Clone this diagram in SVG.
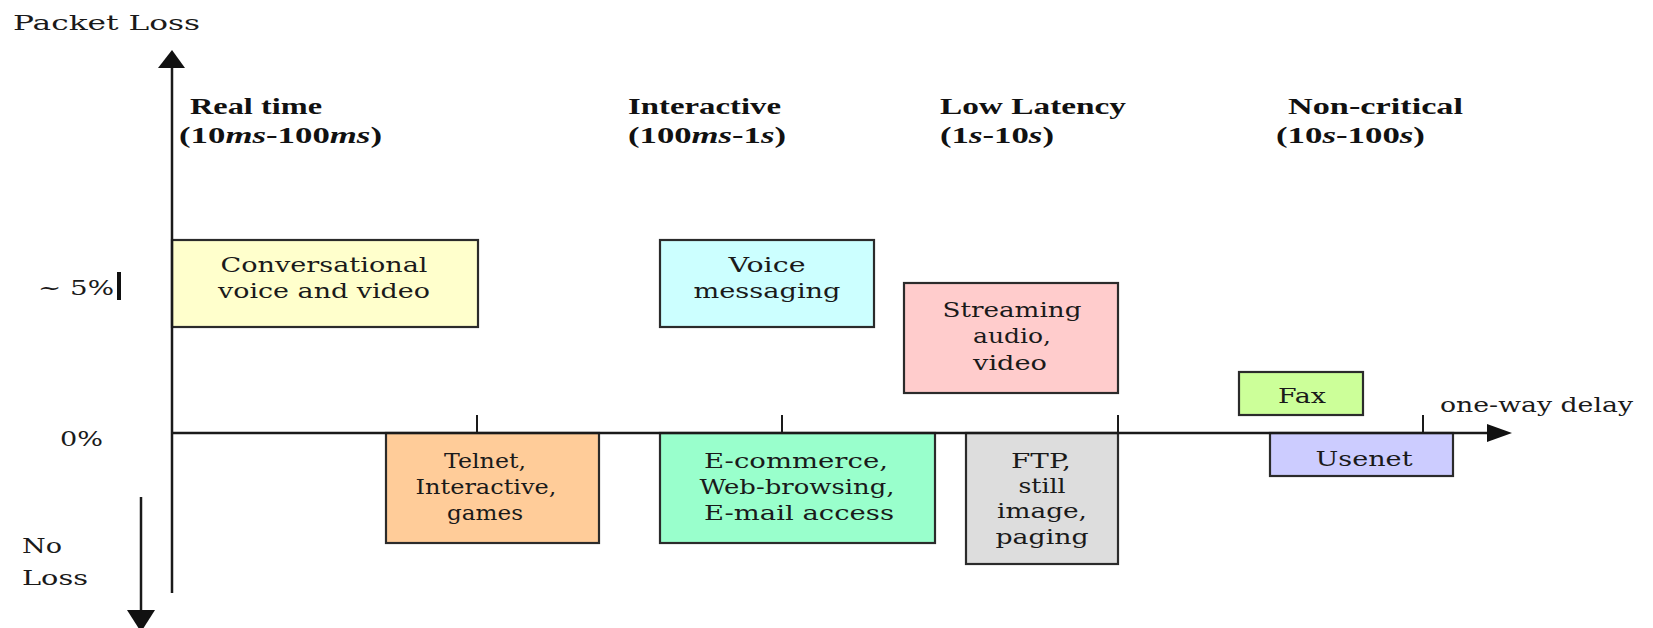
<svg xmlns="http://www.w3.org/2000/svg" width="1653" height="628" viewBox="0 0 1653 628">
<style>
.box{stroke:#2b2b2b;stroke-width:2.2}
.t{font-family:"DejaVu Serif","Liberation Serif",serif;font-size:21px;fill:#1a1a1a;text-anchor:middle}
.l{font-family:"DejaVu Serif","Liberation Serif",serif;font-size:21px;fill:#1a1a1a}
.h{font-family:"Liberation Serif","DejaVu Serif",serif;font-size:23px;font-weight:bold;fill:#111}
.ax{stroke:#1a1a1a;stroke-width:2.5;fill:none}
.tick{stroke:#1a1a1a;stroke-width:2}
.i{font-style:italic}
</style>
<rect width="1653" height="628" fill="#ffffff"/>

<g id="labels">
<text class="l" x="13" y="30" textLength="187" lengthAdjust="spacingAndGlyphs">Packet Loss</text>
<text class="l" x="38" y="295" textLength="76" lengthAdjust="spacingAndGlyphs">~ 5%</text>
<rect x="117" y="272" width="4" height="28" fill="#111"/>
<text class="l" x="60" y="446" textLength="43" lengthAdjust="spacingAndGlyphs">0%</text>
<text class="l" x="22" y="553" textLength="40" lengthAdjust="spacingAndGlyphs">No</text>
<text class="l" x="22" y="585" textLength="66" lengthAdjust="spacingAndGlyphs">Loss</text>
<text class="l" x="1440" y="412" textLength="193" lengthAdjust="spacingAndGlyphs">one-way delay</text>
</g>

<g id="headers">
<text class="h" x="190" y="114" textLength="132" lengthAdjust="spacingAndGlyphs">Real time</text>
<text class="h" x="179" y="143" textLength="203" lengthAdjust="spacingAndGlyphs">(10<tspan class="i">ms</tspan>-100<tspan class="i">ms</tspan>)</text>
<text class="h" x="628" y="114" textLength="153" lengthAdjust="spacingAndGlyphs">Interactive</text>
<text class="h" x="628" y="143" textLength="158" lengthAdjust="spacingAndGlyphs">(100<tspan class="i">ms</tspan>-1<tspan class="i">s</tspan>)</text>
<text class="h" x="940" y="114" textLength="186" lengthAdjust="spacingAndGlyphs">Low Latency</text>
<text class="h" x="940" y="143" textLength="114" lengthAdjust="spacingAndGlyphs">(1<tspan class="i">s</tspan>-10<tspan class="i">s</tspan>)</text>
<text class="h" x="1288" y="114" textLength="175" lengthAdjust="spacingAndGlyphs">Non-critical</text>
<text class="h" x="1276" y="143" textLength="149" lengthAdjust="spacingAndGlyphs">(10<tspan class="i">s</tspan>-100<tspan class="i">s</tspan>)</text>
</g>

<g id="conversational">
<rect class="box" x="172" y="240" width="306" height="87" fill="#FFFFCC"/>
<text class="t" x="324" y="272" textLength="207" lengthAdjust="spacingAndGlyphs">Conversational</text>
<text class="t" x="324" y="298" textLength="212" lengthAdjust="spacingAndGlyphs">voice and video</text>
</g>

<g id="voice-messaging">
<rect class="box" x="660" y="240" width="214" height="87" fill="#CCFFFF"/>
<text class="t" x="767" y="272" textLength="77" lengthAdjust="spacingAndGlyphs">Voice</text>
<text class="t" x="767" y="298" textLength="147" lengthAdjust="spacingAndGlyphs">messaging</text>
</g>

<g id="streaming">
<rect class="box" x="904" y="283" width="214" height="110" fill="#FFCCCC"/>
<text class="t" x="1012" y="317" textLength="139" lengthAdjust="spacingAndGlyphs">Streaming</text>
<text class="t" x="1012" y="343" textLength="78" lengthAdjust="spacingAndGlyphs">audio,</text>
<text class="t" x="1010" y="370" textLength="74" lengthAdjust="spacingAndGlyphs">video</text>
</g>

<g id="fax">
<rect class="box" x="1239" y="372" width="124" height="43" fill="#CCFF99"/>
<text class="t" x="1302" y="403" textLength="48" lengthAdjust="spacingAndGlyphs">Fax</text>
</g>

<g id="telnet">
<rect class="box" x="386" y="433" width="213" height="110" fill="#FFCC99"/>
<text class="t" x="485" y="468" textLength="82" lengthAdjust="spacingAndGlyphs">Telnet,</text>
<text class="t" x="486" y="494" textLength="141" lengthAdjust="spacingAndGlyphs">Interactive,</text>
<text class="t" x="485" y="520" textLength="76" lengthAdjust="spacingAndGlyphs">games</text>
</g>

<g id="ecommerce">
<rect class="box" x="660" y="433" width="275" height="110" fill="#99FFCC"/>
<text class="t" x="796" y="468" textLength="184" lengthAdjust="spacingAndGlyphs">E-commerce,</text>
<text class="t" x="797" y="494" textLength="195" lengthAdjust="spacingAndGlyphs">Web-browsing,</text>
<text class="t" x="799" y="520" textLength="190" lengthAdjust="spacingAndGlyphs">E-mail access</text>
</g>

<g id="ftp">
<rect class="box" x="966" y="433" width="152" height="131" fill="#DDDDDD"/>
<text class="t" x="1041" y="468" textLength="60" lengthAdjust="spacingAndGlyphs">FTP,</text>
<text class="t" x="1042" y="493" textLength="47" lengthAdjust="spacingAndGlyphs">still</text>
<text class="t" x="1042" y="518" textLength="90" lengthAdjust="spacingAndGlyphs">image,</text>
<text class="t" x="1042" y="544" textLength="93" lengthAdjust="spacingAndGlyphs">paging</text>
</g>

<g id="usenet">
<rect class="box" x="1270" y="433" width="183" height="43" fill="#CCCCFF"/>
<text class="t" x="1364" y="466" textLength="97" lengthAdjust="spacingAndGlyphs">Usenet</text>
</g>

<g id="connectors">
<line class="ax" x1="172" y1="64" x2="172" y2="593"/>
<polygon points="172,50 158,68 185,68" fill="#111"/>
<line class="ax" x1="172" y1="433" x2="1490" y2="433"/>
<polygon points="1512,433 1487,424 1487,442" fill="#111"/>
<line class="ax" x1="141" y1="497" x2="141" y2="612"/>
<polygon points="141,632 127,610 155,610" fill="#111"/>
<line class="tick" x1="477" y1="415" x2="477" y2="433"/>
<line class="tick" x1="782" y1="415" x2="782" y2="433"/>
<line class="tick" x1="1118" y1="415" x2="1118" y2="433"/>
<line class="tick" x1="1423" y1="415" x2="1423" y2="433"/>
</g>
</svg>
